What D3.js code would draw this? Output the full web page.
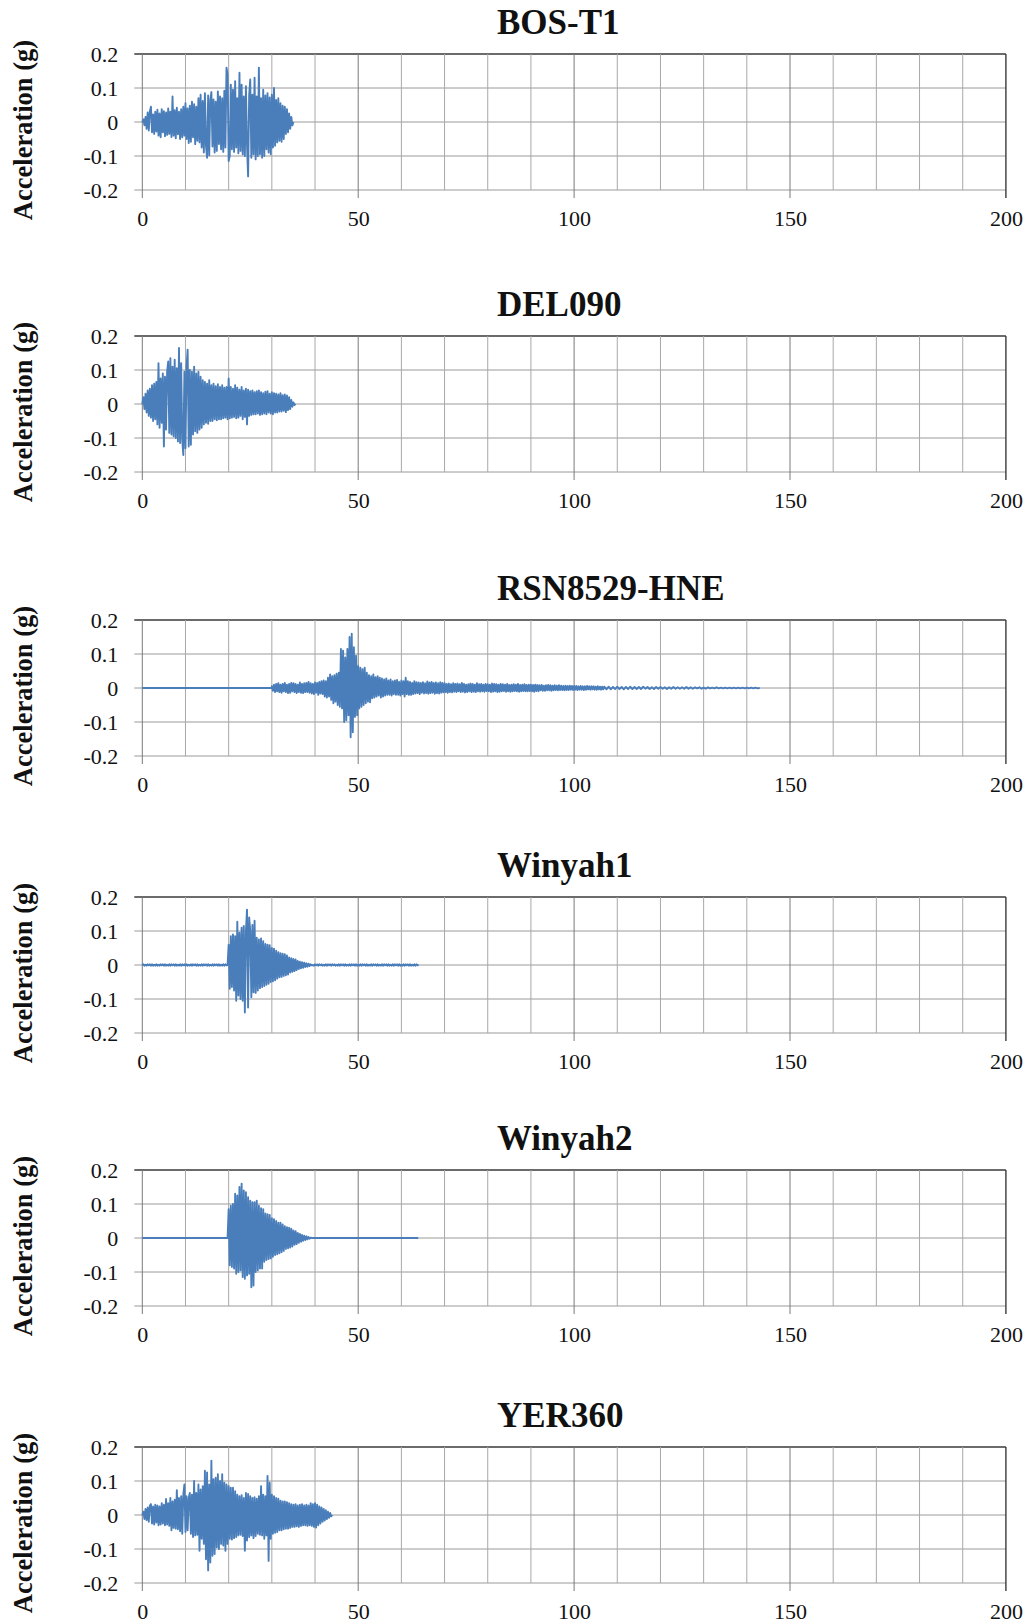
<!DOCTYPE html>
<html>
<head>
<meta charset="utf-8">
<script src="https://cdn.jsdelivr.net/npm/d3@7"></script>
<style>
  body { margin: 0; background: #fff; }
  svg { display: block; }
  text { font-family: "Liberation Serif", "Times New Roman", serif; fill: #111; }
</style>
</head>
<body>
<script>
// ---- Ground-motion records: acceleration in milli-g, sampled from t0 every dt seconds ----
const recordNames = ["BOS-T1", "DEL090", "RSN8529-HNE", "Winyah1", "Winyah2", "YER360"];
const xTicks = [0, 50, 100, 150, 200];            // time (s)
const yTicks = [0.2, 0.1, 0, -0.1, -0.2];          // acceleration (g)

const bosT1 = [
  0, 8, -10, 15,   -20, 28, -25, 32,   45, -30, 22, -35,   30, -28, 36, -40,
  25, -45, 38, -30,   32, -42, 28, -38,   40, -35, 30, -44,   75, -40, 35, -48,
  42, -36, 30, -50,   38, -45, 45, -40,   55, -50, 40, -62,   48, -58, 60, -45,
  52, -65, 45, -55,   70, -60, 80, -75,   62, -90, 85, -70,   -105, 78, -98, 65,
  88, -72, 66, -90,   60, -85, 90, -65,   75, -80, 70, -88,   92, -75, 160, 140,
  -115, -100, 110, -80,   95, -88, 120, -75,   70, -92, 145, -85,   110, -95, 75, -100,
  105, -70, -160, 80,   125, -105, 80, -95,   130, -110, 75, -100,   160, -95, 70, -105,
  95, -100, 78, -80,   85, -90, 72, -95,   80, -75, 100, -70,   65, -60, 70, -55,
  55, -58, 48, -50,   45, -35, 38, -30,   25, -20, 15, -10,   0
];

const del090 = [
  0, 20, -15, 30,   -25, 40, -35, 45,   -40, 55, -50, 60,   -45, 65, -60, 120,
  -70, 75, -55, 90,   -125, 80, -75, 95,   125, -85, 135, -90,   110, -95, 130, -100,
  105, -110, 165, -115,   120, -105, -150, 95,   -130, 110, 160, -125,   100, -120, 95, -90,
  110, -80, 90, -85,   95, -75, 80, -70,   70, -60, 65, -55,   60, -58, 70, -50,
  55, -50, 60, -45,   52, -48, 58, -45,   50, -45, 55, -42,   48, -40, 50, -45,
  75, -42, 50, -40,   45, -38, 55, -42,   48, -40, 42, -35,   50, -45, 40, -38,
  45, -60, 42, -35,   38, -32, 40, -30,   35, -30, 38, -28,   40, -32, 35, -30,
  32, -28, 36, -30,   38, -25, 30, -28,   35, -30, 32, -25,   30, -25, 28, -22,
  32, -22, 26, -20,   28, -24, 25, -18,   20, -15, 12, -8,   5, -3, 0
];

const rsnQuiet = [0, 0];
const rsnStrong = [
  5, -8, 10, -12,   12, -10, 14, -12,   10, -14, 12, -10,   15, -12, 10, -15,
  12, -14, 15, -10,   14, -12, 12, -15,   10, -12, 16, -14,   12, -15, 14, -12,
  15, -12, 18, -14,   14, -16, 12, -18,   16, -14, 15, -20,   18, -16, 20, -18,
  22, -25, 20, -28,   30, -25, 40, -35,   35, -45, 38, -40,   42, -50, 45, -55,
  115, -60, 110, -100,   90, -95, 115, -80,   150, -145, 160, -130,   120, -85, 95, -80,
  65, -60, 60, -55,   55, -50, 60, -45,   45, -40, 38, -42,   35, -30, 40, -28,
  32, -25, 35, -22,   30, -28, 28, -25,   25, -22, 28, -20,   22, -20, 25, -22,
  20, -18, 22, -20,   24, -20, 18, -22,   22, -18, 20, -25,   30, -18, 20, -20
];
const rsnCoda = [
  18, -20, 15, -18, 20, -16, 17, -15,   16, -18, 15, -14, 17, -16, 14, -15,
  19, -17, 16, -15, 18, -14, 15, -17,   16, -15, 14, -16, 17, -14, 15, -13,
  14, -12, 12, -14, 13, -12, 11, -13,   14, -11, 12, -12, 13, -10, 11, -12,
  15, -11, 12, -13, 10, -12, 11, -10,   13, -12, 12, -11, 10, -12, 14, -10,
  11, -11, 12, -10, 10, -11, 12, -9,    11, -10, 10, -12, 13, -11, 12, -10,
  11, -12, 10, -11, 12, -10, 11, -9,    10, -11, 12, -10, 9, -11, 10, -10,
  11, -9, 10, -10, 12, -11, 9, -10,     10, -9, 11, -10, 9, -10, 10, -9,
  10, -10, 9, -11, 10, -9, 9, -10,
  8, -7, 9, -8, 7, -8, 8, -7,   9, -7, 8, -8, 7, -7, 8, -6,
  7, -7, 8, -6, 7, -6, 6, -7,   7, -6, 6, -6, 7, -5, 6, -6,
  6, -5, 6, -6, 5, -5, 6, -5,   5, -6, 5, -5, 6, -4, 5, -5,
  5, -4, 5, -5, 4, -5, 5, -4,   4, -5, 4, -4
];
const rsnTail = [
  4, -4, 4, -4, 3, -3, 4, -3, 3, -4, 3, -3, 4, -3, 3, -3, 3, -3, 4, -2,
  3, -3, 2, -3, 3, -2, 3, -2, 2, -3, 2, -2, 3, -2, 2, -2, 2, -2, 3, -2,
  2, -2, 2, -1, 2, -2, 1, -2, 2, -1, 1, -1, 2, -1, 1, -1,
  1, -1, 1, -1, 1, -1, 1, -1, 1, -1, 1, -1, 1, -1, 1, -1, 0
];

const winyah1Pre = [
  0, 2, -2, 1, -2, 2, -1, 2,   -2, 2, -2, 1, -2, 2, -2, 1,
  -2, 2, -1, 2, -2, 2, -2, 1,   -2, 2, -2, 2, -1, 2, -2, 2,
  -2, 1, -2, 2, -2, 2, -1, 2,   -2, 2, -2, 1, -2, 2, -2, 2,
  -1, 2, -2, 2, -2, 1, -2, 2,   -2, 2, -1, 2, -2, 2, -2, 1,
  -2, 2, -2, 2, -1, 2, -2, 2,   -2, 1, -2, 2, -2, 2, -1
];
const winyah1Main = [
  0,
  60, -70, 85, -65,   90, -75, 85, -105,   127, -90, 95, -100,   110, -105, 115, -140,
  100, 163, -125, 140,   100, -95, 118, -80,   130, -82, 80, -75,   75, -68, 78, -65,
  70, -62, 62, -58,   60, -55, 58, -50,   50, -48, 48, -45,   42, -40, 38, -36,
  35, -35, 33, -32,   32, -30, 28, -28,   22, -22, 20, -20,   18, -18, 16, -15,
  12, -12, 10, -10,   8, -8, 7, -6,   5, -5, 4, -3,   2, -1, 0
];
const winyah1Post = [
  0, -2, 2, -1, 2, -2, 2, -1,   2, -2, 1, -2, 2, -2, 2, -1,
  2, -2, 2, -1, 2, -2, 1, -2,   2, -2, 2, -1, 2, -2, 2, -2,
  1, -2, 2, -2, 2, -1, 2, -2,   2, -2, 1, -2, 2, -2, 2, -1,
  2, -2, 2, -2, 1, -2, 2, -2,   2, -1, 2, -2, 2, -2, 1, -2,
  2, -2, 2, -1, 2, -2, 2, -2,   1, -2, 2, -2, 2, -1, 2, -2,
  2, -2, 1, -2, 2, -2, 2, -1,   2, -2, 2, -2, 1, -2, 2, -2,
  2, -1, 0
];

const winyah2Pre = [0, 0];
const winyah2Main = [
  0,
  85, -80, 95, -85,   100, -90, 130, -105,   125, -100, 150, -95,   160, -115, 140, -120,
  135, -110, 120, -105,   110, -145, 105, -140,   105, -100, 110, -95,   95, -90, 88, -90,
  85, -70, 72, -65,   70, -62, 68, -60,   58, -55, 55, -50,   50, -48, 45, -45,
  45, -42, 40, -38,   35, -32, 32, -30,   30, -28, 27, -25,   22, -20, 20, -18,
  15, -14, 12, -11,   9, -8, 7, -6,   5, -4, 3, -2,   1, 0
];
const winyah2Post = [0, 0];

const yer360 = [
  0, 10, -12, 18,   -15, 22, -20, 28,   32, -25, 25, -28,   30, -22, 28, -30,
  25, -28, 35, -25,   30, -30, 47, -28,   35, -32, 50, -45,   40, -38, 45, -40,
  73, -42, 50, -48,   55, -55, 60, 90,   -50, 55, -45, 50,   65, -55, 60, -65,
  100, -60, 65, -58,   90, -105, 75, -70,   85, -85, 130, -130,   125, -163, 90, -140,
  160, -120, 105, -115,   110, -95, 120, -100,   100, -85, 120, -90,   95, -105, 90, -85,
  85, -70, 80, -72,   80, -68, 70, -65,   60, -60, 55, -58,   58, -62, 50, -105,
  65, -75, 62, -65,   55, -60, 50, -68,   52, -62, 48, -55,   55, -58, 85, -60,
  60, -70, 55, -60,   115, -135, 95, -70,   60, -55, 55, -52,   50, -50, 48, -45,
  42, -45, 40, -42,   40, -40, 38, -40,   35, -38, 32, -35,   30, -35, 32, -33,
  28, -35, 30, -32,   32, -30, 28, -30,   30, -32, 28, -30,   35, -32, 32, -35,
  35, -37, 30, -30,   25, -25, 22, -20,   18, -16, 14, -12,   10, -8, 6, -4,   0
];

// Each record is a list of sampled pieces: start time (s), step (s), samples (mg)
const recordPieces = [
  [{ t0: 0, dt: 0.25, mg: bosT1 }],
  [{ t0: 0, dt: 0.25, mg: del090 }],
  [{ t0: 0, dt: 30, mg: rsnQuiet }, { t0: 30, dt: 0.25, mg: rsnStrong },
   { t0: 62, dt: 0.25, mg: rsnCoda }, { t0: 107, dt: 0.5, mg: rsnTail }],
  [{ t0: 0, dt: 0.25, mg: winyah1Pre }, { t0: 19.75, dt: 0.25, mg: winyah1Main }, { t0: 39.5, dt: 0.25, mg: winyah1Post }],
  [{ t0: 0, dt: 19.75, mg: winyah2Pre }, { t0: 19.75, dt: 0.25, mg: winyah2Main }, { t0: 39.25, dt: 24.65, mg: winyah2Post }],
  [{ t0: 0, dt: 0.25, mg: yer360 }]
];

// ---- Layout ----
const W = 1030, H = 1623;
const panelTops = [54, 336, 620, 897, 1170, 1447];
const plotH = 136;
const lineColor = "#4a7ebb";

const svg = d3.select("body").append("svg").attr("width", W).attr("height", H);
const x = d3.scaleLinear().domain([0, 200]).range([142.3, 1005.9]);
const gridTimes = x.ticks(20);

recordNames.forEach((name, i) => {
  const top = panelTops[i];
  const bottom = top + plotH;
  const y = d3.scaleLinear().domain([-0.2, 0.2]).range([bottom, top]);
  const g = svg.append("g");

  // horizontal grid (with short outward ticks on the left)
  g.selectAll("line.h").data(yTicks).join("line")
    .attr("x1", x(0) - 8).attr("x2", x(200))
    .attr("y1", d => y(d)).attr("y2", d => y(d))
    .attr("stroke", d => d === 0.2 ? "#3a3a3a" : "#9a9a9a")
    .attr("stroke-width", d => d === 0.2 ? 1.4 : 1);

  // vertical grid every 10 s; major lines every 50 s reach below the frame
  g.selectAll("line.v").data(gridTimes).join("line")
    .attr("x1", d => x(d)).attr("x2", d => x(d))
    .attr("y1", top)
    .attr("y2", d => xTicks.includes(d) ? bottom + 8 : bottom)
    .attr("stroke", d => d === 200 ? "#3a3a3a" : (xTicks.includes(d) ? "#7a7a7a" : "#a8a8a8"))
    .attr("stroke-width", d => d === 200 ? 1.4 : 1);

  // tick labels
  const fmt = d => String(d);
  g.append("g")
    .attr("transform", `translate(0,${bottom})`)
    .call(d3.axisBottom(x).tickValues(xTicks).tickSize(0).tickPadding(20).tickFormat(fmt))
    .call(a => a.select(".domain").remove())
    .call(a => a.selectAll("text").attr("font-size", 22).attr("fill", "#111")
      .attr("font-family", '"Liberation Serif", "Times New Roman", serif'));

  g.append("g")
    .attr("transform", `translate(${x(0)},0)`)
    .call(d3.axisLeft(y).tickValues(yTicks).tickSize(0).tickPadding(24).tickFormat(fmt))
    .call(a => a.select(".domain").remove())
    .call(a => a.selectAll("text").attr("font-size", 22).attr("fill", "#111")
      .attr("font-family", '"Liberation Serif", "Times New Roman", serif'));

  // panel title
  g.append("text")
    .attr("x", 497).attr("y", top - 20)
    .attr("font-size", 35).attr("font-weight", "bold")
    .text(name);

  // y-axis title
  const cy = (top + bottom) / 2 + 8;
  g.append("text")
    .attr("transform", `translate(32,${cy}) rotate(-90)`)
    .attr("text-anchor", "middle")
    .attr("font-size", 26.5).attr("font-weight", "bold")
    .text("Acceleration (g)");

  // acceleration time history
  const pts = [];
  recordPieces[i].forEach(p => p.mg.forEach((v, k) => pts.push([p.t0 + k * p.dt, v / 1000])));
  g.append("path")
    .datum(pts)
    .attr("fill", "none")
    .attr("stroke", lineColor)
    .attr("stroke-width", 1.9)
    .attr("stroke-linejoin", "round")
    .attr("d", d3.line().x(d => x(d[0])).y(d => y(d[1])));
});
</script>
</body>
</html>
